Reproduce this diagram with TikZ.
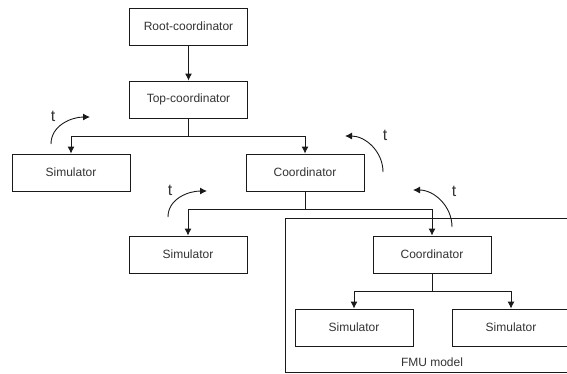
\documentclass[tikz,border=0pt]{standalone}
\usepackage{fontspec}
\setmainfont{Liberation Sans}
\usepackage{tikz}
\usetikzlibrary{arrows.meta,positioning}
\definecolor{linegray}{HTML}{1A1A1A}
\definecolor{textgray}{HTML}{333333}

\begin{document}
\begin{tikzpicture}[x=1pt,y=-1pt,
    block/.style={draw=linegray,line width=0.9pt,minimum width=118pt,minimum height=37pt,inner sep=0pt,font=\fontsize{12}{14}\selectfont,text=textgray},
    link/.style={draw=linegray,line width=0.9pt,-{Latex[length=7pt,width=7pt]}},
    timelabel/.style={inner sep=0pt,font=\fontsize{16}{18}\selectfont,text=textgray}]
    \useasboundingbox (0,0) rectangle (567,373);
    % FMU container
    \node[draw=linegray,line width=0.9pt,anchor=north west,minimum width=335pt,minimum height=154pt,inner sep=0pt] (fmu) at (285,218) {};
    \node[font=\fontsize{12}{14}\selectfont,text=textgray] (fmulabel) at (432,362) {FMU model};
    % nodes
    \node[block] (root) at (188.5,26.5) {Root-coordinator};
    \node[block] (top) at (188.5,99.5) {Top-coordinator};
    \node[block] (sim1) at (71,172.5) {Simulator};
    \node[block] (coord1) at (305,172.5) {Coordinator};
    \node[block] (sim2) at (188,254.5) {Simulator};
    \node[block,fill=white] (coord2) at (432,254.5) {Coordinator};
    \node[block] (sim3) at (354,327.5) {Simulator};
    \node[block] (sim4) at (511,327.5) {Simulator};
    % split points
    \coordinate (topsplit) at (188.5,136);
    \coordinate (coordsplit) at (305,209);
    \coordinate (fmusplit) at (432,291);
    % connectors
    \draw[link] (root) -- (top);
    \draw[link] (top.south) -- (topsplit) -| (sim1.north);
    \draw[link] (topsplit) -| (coord1.north);
    \draw[link] (coord1.south) -- (coordsplit) -| (sim2.north);
    \draw[link] (coordsplit) -| (coord2.north);
    \draw[link] (coord2.south) -- (fmusplit) -| (sim3.north);
    \draw[link] (fmusplit) -| (sim4.north);
    % time arrows
    \coordinate (tsim1a) at (51,144);   \coordinate (tsim1b) at (90,117);
    \coordinate (tcoord1a) at (383,172); \coordinate (tcoord1b) at (345,136);
    \coordinate (tsim2a) at (168,217);  \coordinate (tsim2b) at (207,191);
    \coordinate (tcoord2a) at (452,227); \coordinate (tcoord2b) at (413,190);
    \draw[link] (tsim1a) to[out=90,in=180] (tsim1b);
    \draw[link] (tcoord1a) to[out=90,in=0] (tcoord1b);
    \draw[link] (tsim2a) to[out=90,in=180] (tsim2b);
    \draw[link] (tcoord2a) to[out=90,in=0] (tcoord2b);
    \node[timelabel] (tsim1) at (53,116) {t};
    \node[timelabel] (tcoord1) at (385,135) {t};
    \node[timelabel] (tsim2) at (170,190) {t};
    \node[timelabel] (tcoord2) at (454,191) {t};
\end{tikzpicture}
\end{document}
